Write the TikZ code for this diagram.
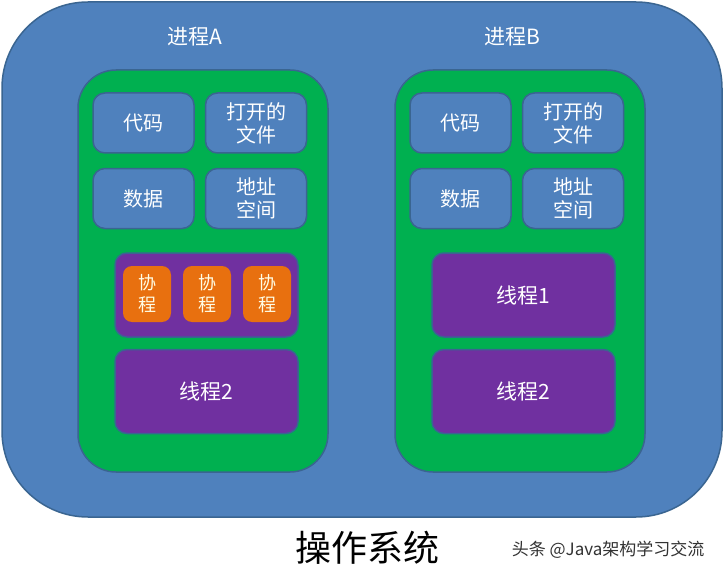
\documentclass[tikz,border=0pt]{standalone}
\usepackage{fontspec}
\newfontfamily\cjk{Noto Sans CJK SC}
\definecolor{osblue}{HTML}{4F81BD}
\definecolor{edgeblue}{HTML}{3A6591}
\definecolor{procgreen}{HTML}{00B050}
\definecolor{thpurple}{HTML}{7030A0}
\definecolor{coorange}{HTML}{E8700F}
\definecolor{wmgray}{HTML}{333333}
\tikzset{
  osbox/.style={draw=edgeblue, line width=1.5pt, fill=osblue, rounded corners=86pt},
  procbox/.style={draw=edgeblue, line width=1.5pt, fill=procgreen, rounded corners=38pt, minimum width=250pt, minimum height=402pt, inner sep=0pt},
  resbox/.style={draw=edgeblue, line width=1.5pt, fill=osblue, rounded corners=12pt, minimum width=101pt, minimum height=60pt, inner sep=0pt, text=white, align=center, font=\cjk\fontsize{20}{23}\selectfont},
  thbox/.style={draw=edgeblue, line width=1.5pt, fill=thpurple, rounded corners=12pt, minimum width=183pt, minimum height=84pt, inner sep=0pt, text=white, font=\cjk\fontsize{21}{25}\selectfont},
  cobox/.style={draw=none, fill=coorange, rounded corners=9pt, minimum width=48pt, minimum height=56pt, inner sep=0pt, text=white!90!yellow, align=center, font=\cjk\fontsize{18}{22}\selectfont},
  proclabel/.style={text=white, font=\cjk\fontsize{21}{25}\selectfont},
}
\begin{document}
\begin{tikzpicture}[x=1pt,y=-1pt]
\useasboundingbox (0,0) rectangle (724,578);
\fill[white] (0,0) rectangle (724,578);
\draw[osbox] (2,2) rectangle (722,517);
\node[proclabel] (labA) at (195,37) {进程A};
\node[proclabel] (labB) at (512,37) {进程B};
% process A
\node[procbox] (pA) at (203,271) {};
\node[resbox] (codeA) at (143.5,123) {代码};
\node[resbox] (fileA) at (256,123) {打开的\\文件};
\node[resbox] (dataA) at (143.5,198.5) {数据};
\node[resbox] (addrA) at (256,198.5) {地址\\空间};
\node[thbox] (th1A) at (206.5,295) {};
\node[cobox] (co1) at (147,294) {协\\程};
\node[cobox] (co2) at (207,294) {协\\程};
\node[cobox] (co3) at (267,294) {协\\程};
\node[thbox] (th2A) at (206.5,391.5) {线程2};
% process B
\node[procbox] (pB) at (520,271) {};
\node[resbox] (codeB) at (460.5,123) {代码};
\node[resbox] (fileB) at (573,123) {打开的\\文件};
\node[resbox] (dataB) at (460.5,198.5) {数据};
\node[resbox] (addrB) at (573,198.5) {地址\\空间};
\node[thbox] (th1B) at (523.5,295) {线程1};
\node[thbox] (th2B) at (523.5,391.5) {线程2};
% captions
\node[text=black, font=\cjk\fontsize{36}{40}\selectfont] (os) at (367,548) {操作系统};
\node[text=wmgray, font=\cjk\fontsize{17}{20}\selectfont, anchor=east] (wm) at (708,550) {头条 @Java架构学习交流};
\end{tikzpicture}
\end{document}
